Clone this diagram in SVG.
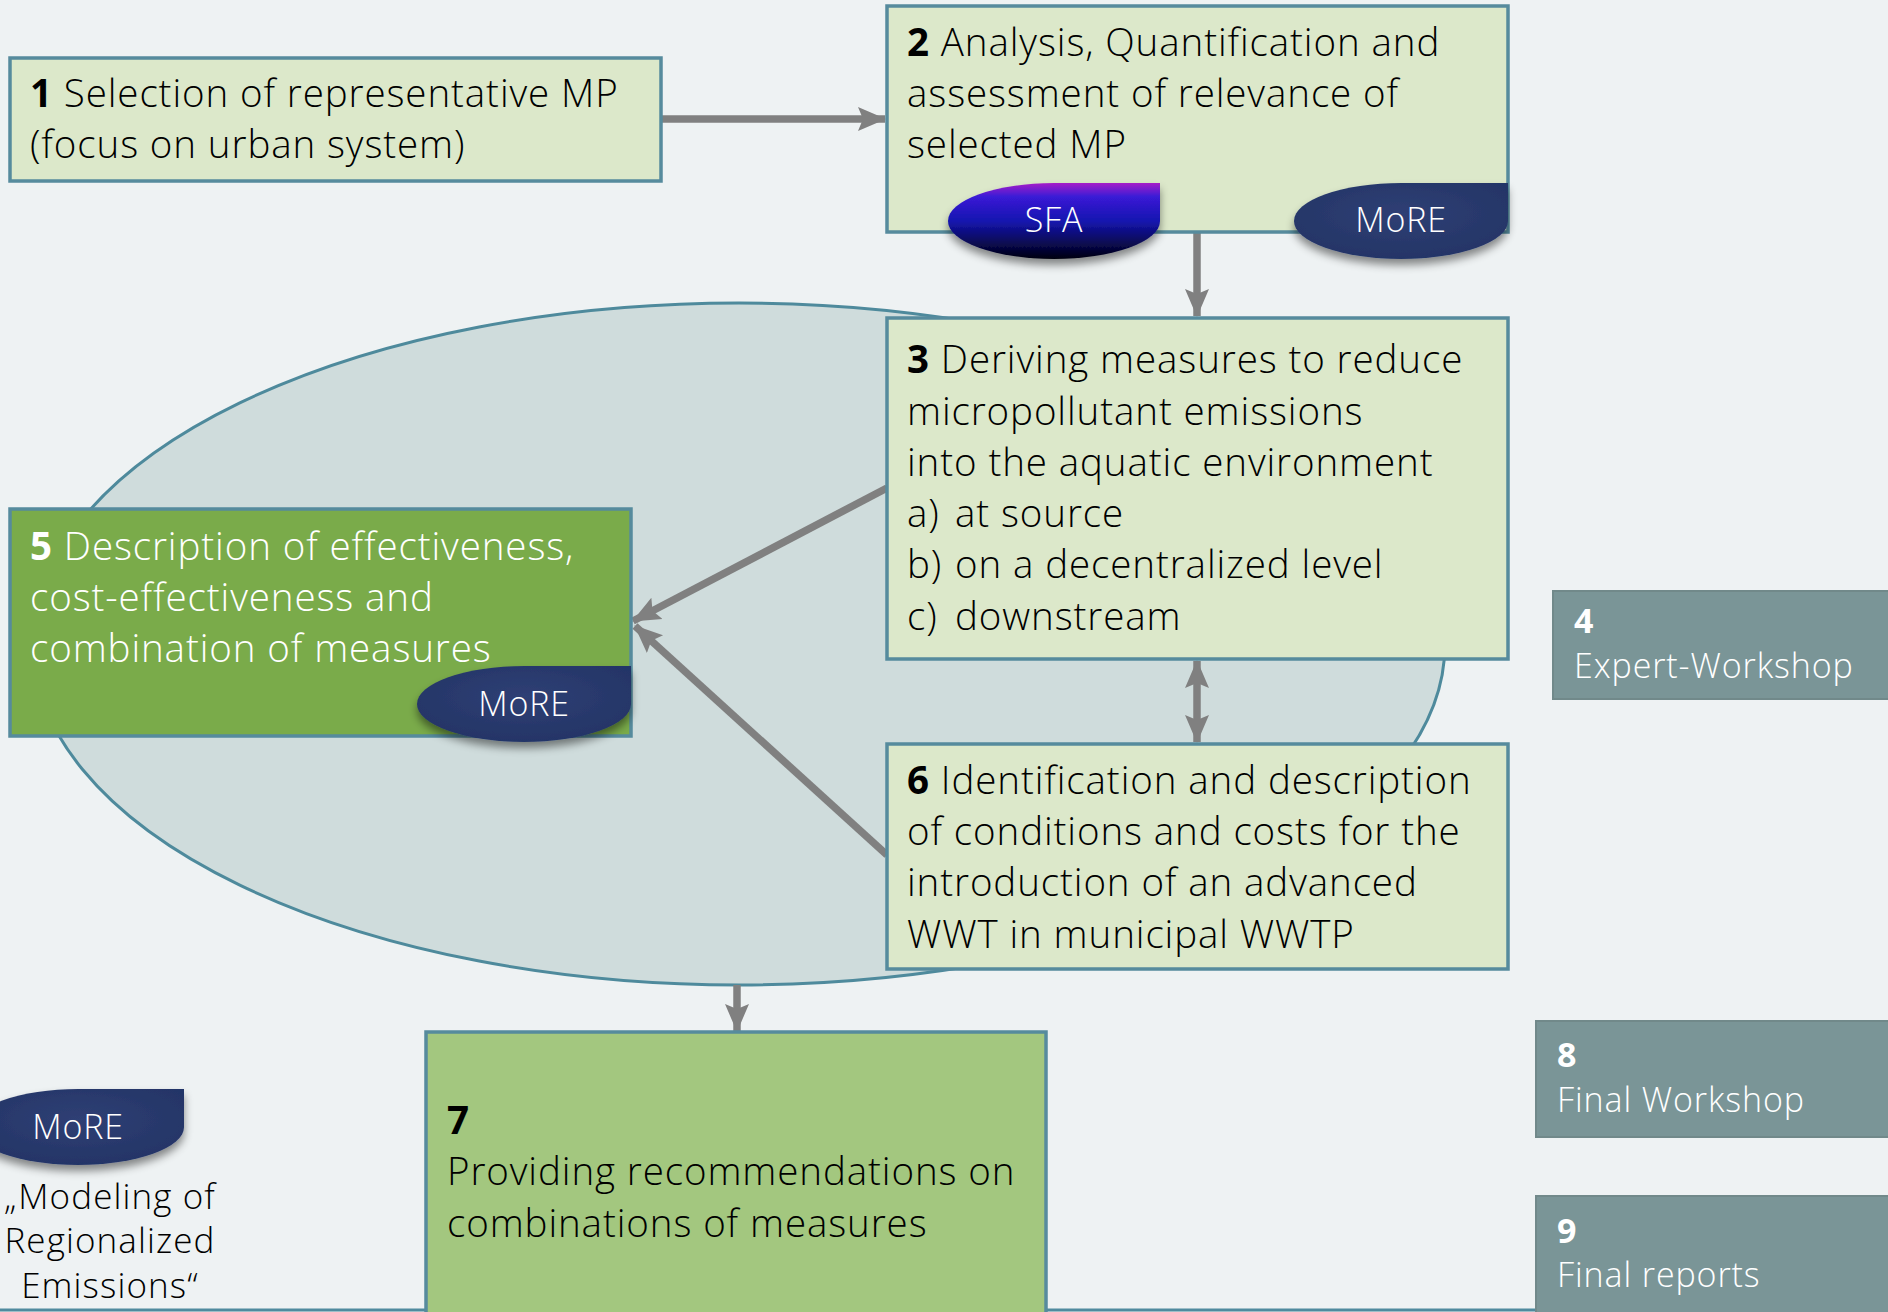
<svg xmlns="http://www.w3.org/2000/svg" width="1888" height="1312" viewBox="0 0 1888 1312">
<style>
.t{font-family:"Open Sans","Noto Sans",sans-serif;font-size:38.5px;font-weight:300;letter-spacing:0.9px;fill:#000}
.w{fill:#fff}
.s{font-size:34px;letter-spacing:0.9px}
.b{font-weight:bold}
.box{fill:#dce8ca;stroke:#568b9d;stroke-width:3.5}
.grey{fill:#7a9597;stroke:#71898a;stroke-width:2}
.con{stroke:#808080;stroke-width:7.5;fill:none}
.pl{font-family:"Open Sans","Noto Sans",sans-serif;font-size:34px;font-weight:300;letter-spacing:0.8px;fill:#fff;text-anchor:middle}
.lg{font-size:35px;letter-spacing:1.1px;text-anchor:middle}
</style>
<defs>
<marker id="ah" markerUnits="userSpaceOnUse" markerWidth="28" markerHeight="28" viewBox="0 0 28 28" refX="27" refY="14" orient="auto-start-reverse">
<path d="M0,2 L28,14 L0,26 L5,14 Z" fill="#808080"/>
</marker>
<linearGradient id="sfa" x1="0" y1="0" x2="0" y2="1">
<stop offset="0" stop-color="#a61ec8"/>
<stop offset="0.18" stop-color="#3a1ad6"/>
<stop offset="0.5" stop-color="#1515b0"/>
<stop offset="1" stop-color="#00000f"/>
</linearGradient>
<radialGradient id="more" cx="0.5" cy="0.4" r="0.6">
<stop offset="0" stop-color="#2f3f74"/>
<stop offset="1" stop-color="#243567"/>
</radialGradient>
<filter id="sh" x="-20%" y="-20%" width="140%" height="160%">
<feDropShadow dx="0" dy="6" stdDeviation="4" flood-color="#000" flood-opacity="0.45"/>
</filter>
</defs>
<rect x="0" y="0" width="1888" height="1312" fill="#eef2f3"/>
<line x1="0" y1="1310" x2="1888" y2="1310" stroke="#4f8a9e" stroke-width="3"/>

<g id="cycle">
<ellipse cx="739" cy="644" rx="706" ry="341" fill="#cfdcdc" stroke="#4e8a9c" stroke-width="3"/>
</g>

<g id="connectors">
<line class="con" x1="661" y1="119" x2="885" y2="119" marker-end="url(#ah)"/>
<line class="con" x1="1197" y1="232" x2="1197" y2="316" marker-end="url(#ah)"/>
<line class="con" x1="887" y1="488" x2="633" y2="621" marker-end="url(#ah)"/>
<line class="con" x1="887" y1="855" x2="635" y2="626" marker-end="url(#ah)"/>
<line class="con" x1="1197" y1="661" x2="1197" y2="742" marker-start="url(#ah)" marker-end="url(#ah)"/>
<line class="con" x1="737" y1="985" x2="737" y2="1031" marker-end="url(#ah)"/>
</g>

<g id="node1">
<rect class="box" x="10" y="58" width="651" height="123"/>
<text class="t" x="30" y="107"><tspan class="b">1</tspan> Selection of representative MP</text>
<text class="t" x="30" y="158">(focus on urban system)</text>
</g>

<g id="node2">
<rect class="box" x="887" y="6" width="621" height="226"/>
<text class="t" x="907" y="56"><tspan class="b">2</tspan> Analysis, Quantification and</text>
<text class="t" x="907" y="107">assessment of relevance of</text>
<text class="t" x="907" y="158">selected MP</text>
<g id="sfa-tag">
<path d="M1054,183 L1160,183 L1160,221 A106,38 0 0 1 1054,259 A106,38 0 0 1 948,221 A106,38 0 0 1 1054,183 Z" fill="url(#sfa)" filter="url(#sh)"/>
<text class="pl" x="1054" y="232">SFA</text>
</g>
<g id="more-tag-2">
<path d="M1401,183 L1508,183 L1508,221 A107,38 0 0 1 1401,259 A107,38 0 0 1 1294,221 A107,38 0 0 1 1401,183 Z" fill="url(#more)" filter="url(#sh)"/>
<text class="pl" x="1401" y="232">MoRE</text>
</g>
</g>

<g id="node3">
<rect class="box" x="887" y="318" width="621" height="341"/>
<text class="t" x="907" y="373"><tspan class="b">3</tspan> Deriving measures to reduce</text>
<text class="t" x="907" y="425">micropollutant emissions</text>
<text class="t" x="907" y="476">into the aquatic environment</text>
<text class="t" x="907" y="527">a) <tspan x="955">at source</tspan></text>
<text class="t" x="907" y="578">b) <tspan x="955">on a decentralized level</tspan></text>
<text class="t" x="907" y="630">c) <tspan x="955">downstream</tspan></text>
</g>

<g id="node5">
<rect x="10" y="509" width="621" height="227" fill="#7aab4a" stroke="#568b9d" stroke-width="3.5"/>
<text class="t w" x="30" y="560"><tspan class="b">5</tspan> Description of effectiveness,</text>
<text class="t w" x="30" y="611">cost-effectiveness and</text>
<text class="t w" x="30" y="662">combination of measures</text>
<g id="more-tag-5">
<path d="M524,666 L631,666 L631,704 A107,38 0 0 1 524,742 A107,38 0 0 1 417,704 A107,38 0 0 1 524,666 Z" fill="url(#more)" filter="url(#sh)"/>
<text class="pl" x="524" y="716">MoRE</text>
</g>
</g>

<g id="node6">
<rect class="box" x="887" y="744" width="621" height="225"/>
<text class="t" x="907" y="794"><tspan class="b">6</tspan> Identification and description</text>
<text class="t" x="907" y="845">of conditions and costs for the</text>
<text class="t" x="907" y="896">introduction of an advanced</text>
<text class="t" x="907" y="948">WWT in municipal WWTP</text>
</g>

<g id="node7">
<rect x="426" y="1032" width="620" height="290" fill="#a3c77f" stroke="#568b9d" stroke-width="3.5"/>
<text class="t b" x="447" y="1134">7</text>
<text class="t" x="447" y="1185">Providing recommendations on</text>
<text class="t" x="447" y="1237">combinations of measures</text>
</g>

<g id="node4">
<rect class="grey" x="1553" y="591" width="340" height="108"/>
<text class="t w s b" x="1574" y="633">4</text>
<text class="t w s" x="1574" y="678">Expert-Workshop</text>
</g>

<g id="node8">
<rect class="grey" x="1536" y="1021" width="357" height="116"/>
<text class="t w s b" x="1557" y="1067">8</text>
<text class="t w s" x="1557" y="1112">Final Workshop</text>
</g>

<g id="node9">
<rect class="grey" x="1536" y="1196" width="357" height="120"/>
<text class="t w s b" x="1557" y="1243">9</text>
<text class="t w s" x="1557" y="1287">Final reports</text>
</g>

<g id="legend">
<path d="M78,1089 L184,1089 L184,1127 A106,38 0 0 1 78,1165 A106,38 0 0 1 -28,1127 A106,38 0 0 1 78,1089 Z" fill="url(#more)" filter="url(#sh)"/>
<text class="pl" x="78" y="1139">MoRE</text>
<text class="t lg" x="110" y="1209">„Modeling of</text>
<text class="t lg" x="110" y="1253">Regionalized</text>
<text class="t lg" x="110" y="1298">Emissions“</text>
</g>
</svg>
